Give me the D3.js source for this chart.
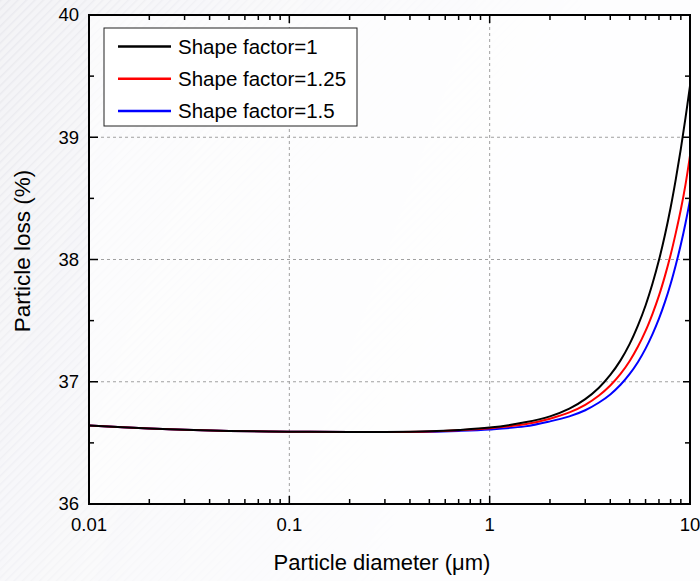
<!DOCTYPE html>
<html>
<head>
<meta charset="utf-8">
<script src="https://cdn.jsdelivr.net/npm/d3@7"></script>
<style>
  html, body { margin: 0; padding: 0; background: #fff; }
  svg { display: block; font-family: "Liberation Sans", Arial, sans-serif; }
</style>
</head>
<body>
<div id="root"></div>
<script>
// particle diameter (um)
const diameters = [0.01, 0.02, 0.03, 0.05, 0.1, 0.2, 0.3, 0.5, 0.7, 1, 1.5, 2, 2.5, 3, 3.5, 4, 4.5, 5, 5.5, 6, 6.5, 7, 7.5, 8, 8.5, 9, 9.5, 10];
// particle loss (%) per shape factor
const lossSF1 = [36.642, 36.618, 36.607, 36.598, 36.592, 36.589, 36.589, 36.595, 36.606, 36.625, 36.668, 36.717, 36.78, 36.858, 36.949, 37.056, 37.175, 37.31, 37.461, 37.624, 37.803, 37.995, 38.202, 38.423, 38.659, 38.905, 39.16, 39.42];
const lossSF125 = [36.642, 36.618, 36.607, 36.598, 36.592, 36.589, 36.589, 36.593, 36.603, 36.62, 36.652, 36.698, 36.749, 36.811, 36.885, 36.969, 37.064, 37.17, 37.288, 37.416, 37.556, 37.704, 37.866, 38.037, 38.22, 38.409, 38.615, 38.85];
const lossSF15 = [36.642, 36.618, 36.607, 36.598, 36.592, 36.589, 36.589, 36.591, 36.598, 36.61, 36.635, 36.676, 36.717, 36.767, 36.828, 36.896, 36.975, 37.064, 37.162, 37.271, 37.39, 37.516, 37.653, 37.80, 37.958, 38.122, 38.299, 38.486];
const seriesNames = ["Shape factor=1", "Shape factor=1.25", "Shape factor=1.5"];
const seriesColors = ["#000000", "#ff0000", "#0000ff"];
const xTicks = [0.01, 0.1, 1, 10];
const yTicks = [36, 37, 38, 39, 40];

const width = 700;
const height = 581;
const margin = { top: 15, right: 10, bottom: 77, left: 89 };
const innerW = width - margin.left - margin.right;
const innerH = height - margin.top - margin.bottom;

const svg = d3
  .select("#root")
  .append("svg")
  .attr("width", width)
  .attr("height", height)
  .attr("viewBox", `0 0 ${width} ${height}`);

// faint striped background on the left, fading out
const defs = svg.append("defs");
const pattern = defs
  .append("pattern")
  .attr("id", "stripes")
  .attr("width", 6)
  .attr("height", 6)
  .attr("patternUnits", "userSpaceOnUse")
  .attr("patternTransform", "rotate(45)");
pattern.append("rect").attr("width", 6).attr("height", 6).attr("fill", "#f3f3f6");
pattern.append("line").attr("x1", 0).attr("y1", 0).attr("x2", 0).attr("y2", 6)
  .attr("stroke", "#e9e9ee").attr("stroke-width", 3);
const grad = defs.append("linearGradient").attr("id", "fade").attr("x1", 0).attr("x2", 1).attr("y1", 0).attr("y2", 0.3);
grad.append("stop").attr("offset", "0%").attr("stop-color", "#fff").attr("stop-opacity", 1);
grad.append("stop").attr("offset", "45%").attr("stop-color", "#fff").attr("stop-opacity", 0.25);
grad.append("stop").attr("offset", "80%").attr("stop-color", "#fff").attr("stop-opacity", 0);
defs.append("mask").attr("id", "fadeMask")
  .append("rect").attr("width", width).attr("height", height).attr("fill", "url(#fade)");

svg.append("rect").attr("width", width).attr("height", height).attr("fill", "#fdfdfe");
svg.append("rect").attr("width", width).attr("height", height)
  .attr("fill", "url(#stripes)").attr("mask", "url(#fadeMask)");

const g = svg.append("g").attr("transform", `translate(${margin.left},${margin.top})`);

const x = d3.scaleLog().domain([0.01, 10]).range([0, innerW]);
const y = d3.scaleLinear().domain([36, 40]).range([innerH, 0]);

// plot background
g.append("rect").attr("width", innerW).attr("height", innerH).attr("fill", "#fff").attr("opacity", 0.6);

// grid
g.append("g")
  .selectAll("line")
  .data(xTicks.slice(1, -1))
  .join("line")
  .attr("x1", (d) => x(d)).attr("x2", (d) => x(d))
  .attr("y1", 0).attr("y2", innerH)
  .attr("stroke", "#a0a0a0").attr("stroke-dasharray", "3,3");
g.append("g")
  .selectAll("line")
  .data(yTicks.slice(1, -1))
  .join("line")
  .attr("y1", (d) => y(d)).attr("y2", (d) => y(d))
  .attr("x1", 0).attr("x2", innerW)
  .attr("stroke", "#a0a0a0").attr("stroke-dasharray", "3,3");

// lines
const series = [lossSF1, lossSF125, lossSF15];
const line = d3
  .line()
  .x((d) => x(d[0]))
  .y((d) => y(d[1]))
  .curve(d3.curveCatmullRom.alpha(0.5));

series.slice().reverse().forEach((vals, i) => {
  const idx = series.length - 1 - i;
  g.append("path")
    .datum(diameters.map((d, j) => [d, vals[j]]))
    .attr("fill", "none")
    .attr("stroke", seriesColors[idx])
    .attr("stroke-width", 2)
    .attr("d", line);
});

// minor ticks
const xMinor = [];
[0.01, 0.1, 1].forEach((dec) => {
  for (let k = 2; k <= 9; k++) xMinor.push(dec * k);
});
const yMinor = [36.5, 37.5, 38.5, 39.5];

const axisColor = "#000";
const axisG = g.append("g").attr("stroke", axisColor).attr("stroke-width", 1.5);

// bottom & top ticks (inward)
xMinor.forEach((d) => {
  axisG.append("line").attr("x1", x(d)).attr("x2", x(d)).attr("y1", innerH).attr("y2", innerH - 5);
  axisG.append("line").attr("x1", x(d)).attr("x2", x(d)).attr("y1", 0).attr("y2", 5);
});
xTicks.forEach((d) => {
  axisG.append("line").attr("x1", x(d)).attr("x2", x(d)).attr("y1", innerH).attr("y2", innerH - 8);
  axisG.append("line").attr("x1", x(d)).attr("x2", x(d)).attr("y1", 0).attr("y2", 8);
});
// left & right ticks
yMinor.forEach((d) => {
  axisG.append("line").attr("y1", y(d)).attr("y2", y(d)).attr("x1", 0).attr("x2", 5);
  axisG.append("line").attr("y1", y(d)).attr("y2", y(d)).attr("x1", innerW).attr("x2", innerW - 5);
});
yTicks.forEach((d) => {
  axisG.append("line").attr("y1", y(d)).attr("y2", y(d)).attr("x1", 0).attr("x2", 9);
  axisG.append("line").attr("y1", y(d)).attr("y2", y(d)).attr("x1", innerW).attr("x2", innerW - 7);
});

// frame
g.append("rect")
  .attr("width", innerW).attr("height", innerH)
  .attr("fill", "none").attr("stroke", axisColor).attr("stroke-width", 2);

// tick labels
g.append("g")
  .selectAll("text")
  .data(xTicks)
  .join("text")
  .attr("x", (d) => x(d))
  .attr("y", innerH + 27)
  .attr("text-anchor", "middle")
  .attr("font-size", 18.5)
  .text((d) => d3.format("~g")(d));

g.append("g")
  .selectAll("text")
  .data(yTicks)
  .join("text")
  .attr("x", -10)
  .attr("y", (d) => y(d))
  .attr("dy", "0.35em")
  .attr("text-anchor", "end")
  .attr("font-size", 18.5)
  .text((d) => d);

// axis titles
svg.append("text")
  .attr("x", 382)
  .attr("y", 570)
  .attr("text-anchor", "middle")
  .attr("font-size", 22)
  .text("Particle diameter (\u03bcm)");

svg.append("text")
  .attr("transform", "translate(30,251) rotate(-90)")
  .attr("text-anchor", "middle")
  .attr("font-size", 22.5)
  .text("Particle loss (%)");

// legend
const legend = svg.append("g").attr("transform", "translate(104,28)");
legend.append("rect")
  .attr("width", 253).attr("height", 98)
  .attr("fill", "#fff").attr("stroke", "#222").attr("stroke-width", 1);
seriesNames.forEach((name, i) => {
  const ly = 18.5 + i * 32.3;
  legend.append("line")
    .attr("x1", 14).attr("x2", 67).attr("y1", ly).attr("y2", ly)
    .attr("stroke", seriesColors[i]).attr("stroke-width", 2.5);
  legend.append("text")
    .attr("x", 74).attr("y", ly)
    .attr("dy", "0.36em")
    .attr("font-size", 20.5)
    .text(name);
});
</script>
</body>
</html>
